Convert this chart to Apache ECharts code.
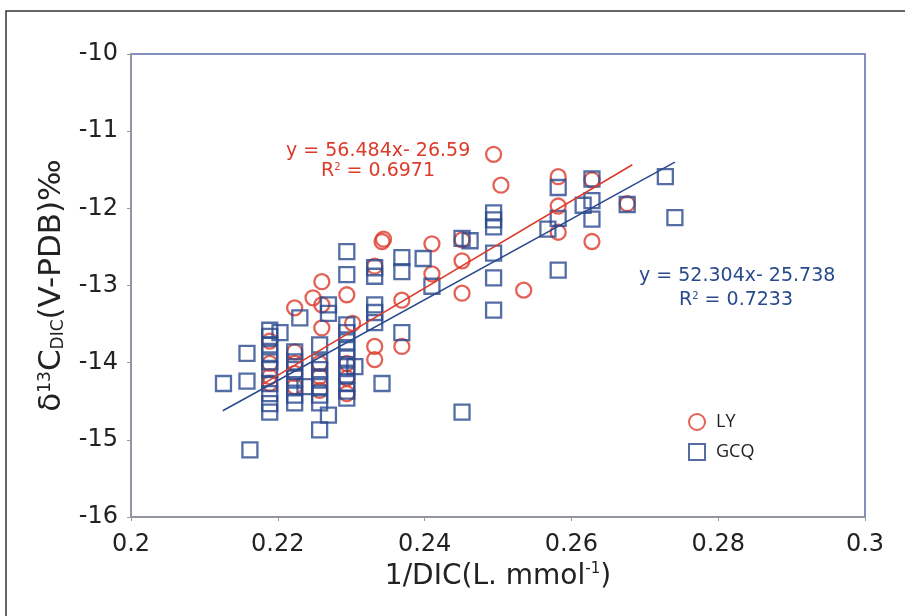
<!DOCTYPE html>
<html>
<head>
<meta charset="utf-8">
<script src="https://cdn.jsdelivr.net/npm/echarts@6/dist/echarts.min.js"></script>
<style>
  html, body { margin: 0; padding: 0; background: #fff; }
  #chart { width: 905px; height: 616px; }
</style>
</head>
<body>
<div id="chart"></div>
<script>
// LY points [1/DIC, d13C]
const lyPoints = [
  [0.2494, -11.30], [0.2504, -11.70], [0.2582, -11.59], [0.2582, -11.97], [0.2582, -12.31],
  [0.2628, -11.63], [0.2628, -12.43], [0.2676, -11.94], [0.2535, -13.06],
  [0.2451, -12.41], [0.2451, -12.68], [0.2451, -13.10], [0.2410, -12.46], [0.2410, -12.85],
  [0.2369, -13.19], [0.2369, -13.79], [0.2342, -12.43], [0.2344, -12.40],
  [0.2332, -12.75], [0.2332, -13.79], [0.2332, -13.96],
  [0.2294, -13.12], [0.2294, -14.01], [0.2294, -14.20], [0.2294, -14.40], [0.2302, -13.49],
  [0.2260, -12.95], [0.2260, -13.25], [0.2260, -13.55], [0.2257, -14.01], [0.2257, -14.18], [0.2257, -14.36],
  [0.2248, -13.16], [0.2223, -13.29], [0.2223, -13.86], [0.2223, -14.01], [0.2223, -14.14], [0.2223, -14.31],
  [0.2189, -14.01], [0.2189, -14.18], [0.2189, -14.27], [0.2189, -13.72]
];

// GCQ points
const gcqPoints = [
  [0.2728, -11.59], [0.2741, -12.12], [0.2676, -11.95], [0.2628, -11.62], [0.2628, -11.90],
  [0.2628, -12.14], [0.2616, -11.96], [0.2582, -11.73], [0.2582, -12.13], [0.2568, -12.27],
  [0.2582, -12.80], [0.2494, -12.06], [0.2494, -12.15], [0.2494, -12.24], [0.2494, -12.58],
  [0.2494, -12.90], [0.2494, -13.32], [0.2451, -12.39], [0.2462, -12.42], [0.2451, -14.64],
  [0.2398, -12.65], [0.2369, -12.64], [0.2369, -12.82], [0.2410, -13.01], [0.2369, -13.61],
  [0.2342, -14.27], [0.2332, -12.77], [0.2332, -12.88], [0.2332, -13.25], [0.2332, -13.35], [0.2332, -13.48],
  [0.2294, -12.56], [0.2294, -12.86], [0.2294, -13.51], [0.2294, -13.61], [0.2294, -13.73], [0.2294, -13.83],
  [0.2294, -13.94], [0.2294, -14.05], [0.2294, -14.16], [0.2294, -14.27], [0.2294, -14.37], [0.2294, -14.46],
  [0.2305, -14.05], [0.2269, -13.25], [0.2269, -13.36], [0.2230, -13.42], [0.2203, -13.61],
  [0.2257, -13.77], [0.2257, -13.99], [0.2257, -14.09], [0.2257, -14.20], [0.2257, -14.31],
  [0.2257, -14.42], [0.2257, -14.52], [0.2269, -14.68], [0.2257, -14.87],
  [0.2223, -13.86], [0.2223, -13.99], [0.2223, -14.09], [0.2223, -14.20], [0.2223, -14.31],
  [0.2223, -14.42], [0.2223, -14.52], [0.2237, -14.31],
  [0.2189, -13.58], [0.2189, -13.66], [0.2189, -13.77], [0.2189, -13.88], [0.2189, -13.99],
  [0.2189, -14.09], [0.2189, -14.27], [0.2189, -14.40], [0.2189, -14.53], [0.2189, -14.64],
  [0.2158, -13.88], [0.2126, -14.27], [0.2158, -14.24], [0.2162, -15.13]
];

// fitted line end points
const lyFit = [[0.2178, -14.288], [0.2683, -11.435]];
const gcqFit = [[0.2125, -14.623], [0.2741, -11.401]];

const xTicks = [0.2, 0.22, 0.24, 0.26, 0.28, 0.3];
const yTicks = [-16, -15, -14, -13, -12, -11, -10];

const red = '#dd3a2a';
const blue = '#294a8f';
const ink = '#222';
const font = 'DejaVu Sans';

let myChart = echarts.init(document.getElementById('chart'));
myChart.setOption({
  animation: false,
  grid: {
    left: 131, top: 54, right: 40, bottom: 99,
    show: true, borderColor: '#5a6ea8', borderWidth: 1.5
  },
  xAxis: {
    type: 'value',
    min: xTicks[0], max: xTicks[xTicks.length - 1], interval: 0.02,
    name: '{a|1/DIC(L. mmol}{s|-1}{a|)}',
    nameLocation: 'middle', nameGap: 44,
    nameTextStyle: {
      rich: {
        a: { fontSize: 28, color: ink, fontFamily: font },
        s: { fontSize: 15, color: ink, fontFamily: font, padding: [0, 0, 14, 0] }
      }
    },
    axisLine: { lineStyle: { color: '#999', width: 1.5 } },
    axisTick: { inside: false, length: 4, lineStyle: { color: '#999' } },
    axisLabel: { fontSize: 24, color: ink, fontFamily: font, margin: 16 },
    splitLine: { show: false }
  },
  yAxis: {
    type: 'value',
    min: yTicks[0], max: yTicks[yTicks.length - 1], interval: 1,
    name: '{a|δ}{s|13}{a|C}{b|DIC}{a|(V-PDB)‰}',
    nameLocation: 'middle', nameGap: 58, nameRotate: 90,
    nameTextStyle: {
      rich: {
        a: { fontSize: 31, color: ink, fontFamily: font },
        s: { fontSize: 17, color: ink, fontFamily: font, padding: [0, 0, 14, 0] },
        b: { fontSize: 17, color: ink, fontFamily: font, padding: [12, 0, 0, 0] }
      }
    },
    axisLine: { lineStyle: { color: '#999', width: 1.5 } },
    axisTick: { inside: false, length: 4, lineStyle: { color: '#999' } },
    axisLabel: { fontSize: 24, color: ink, fontFamily: font, margin: 13 },
    splitLine: { show: false }
  },
  legend: {
    orient: 'vertical', left: 683, top: 408, itemGap: 12,
    itemWidth: 16, itemHeight: 16,
    textStyle: { fontSize: 18, color: ink, fontFamily: 'Open Sans', padding: [0, 0, 0, 6] },
    data: [
      { name: 'LY', icon: 'circle', itemStyle: { color: 'transparent', borderColor: red, borderWidth: 2 } },
      { name: 'GCQ', icon: 'rect', itemStyle: { color: 'transparent', borderColor: blue, borderWidth: 2 } }
    ]
  },
  series: [
    {
      name: 'LY', type: 'scatter', data: lyPoints,
      symbol: 'circle', symbolSize: 15,
      itemStyle: { color: 'transparent', borderColor: red, borderWidth: 2.3 }
    },
    {
      name: 'GCQ', type: 'scatter', data: gcqPoints,
      symbol: 'rect', symbolSize: 15,
      itemStyle: { color: 'transparent', borderColor: blue, borderWidth: 2.3 }
    },
    {
      name: 'LY fit', type: 'line', data: lyFit, symbol: 'none',
      lineStyle: { color: red, width: 1.5 }
    },
    {
      name: 'GCQ fit', type: 'line', data: gcqFit, symbol: 'none',
      lineStyle: { color: blue, width: 1.5 }
    }
  ],
  graphic: [
    {
      type: 'rect', silent: true,
      shape: { x: 6, y: 11, width: 1000, height: 700 },
      style: { fill: 'none', stroke: '#333', lineWidth: 1.5 }
    },
    {
      type: 'text', left: 286, top: 142,
      style: { text: 'y = 56.484x- 26.59', fill: red, font: '19px DejaVu Sans' }
    },
    {
      type: 'text', left: 321, top: 162,
      style: {
        text: '{a|R}{s|2}{a| = 0.6971}', fill: red,
        rich: { a: { fontSize: 19, fontFamily: font, fill: red }, s: { fontSize: 10, fontFamily: font, fill: red, padding: [0, 0, 9, 0] } }
      }
    },
    {
      type: 'text', left: 639, top: 267,
      style: { text: 'y = 52.304x- 25.738', fill: blue, font: '19px DejaVu Sans' }
    },
    {
      type: 'text', left: 679, top: 291,
      style: {
        text: '{a|R}{s|2}{a| = 0.7233}', fill: blue,
        rich: { a: { fontSize: 19, fontFamily: font, fill: blue }, s: { fontSize: 10, fontFamily: font, fill: blue, padding: [0, 0, 9, 0] } }
      }
    }
  ]
});
</script>
</body>
</html>
